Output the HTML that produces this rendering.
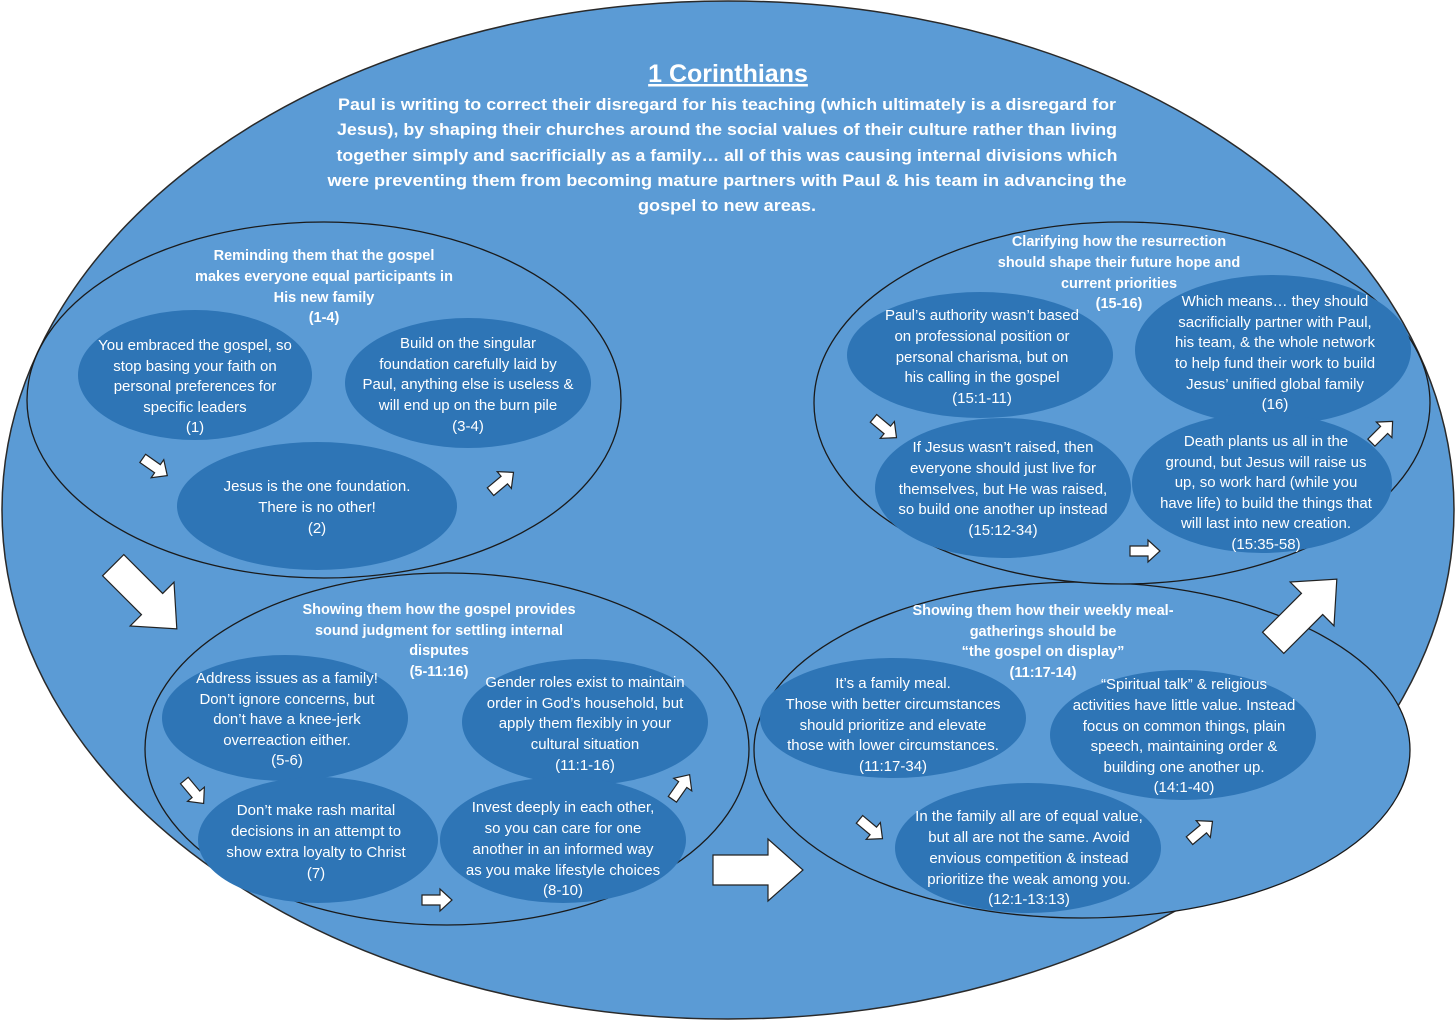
<!DOCTYPE html>
<html><head><meta charset="utf-8"><style>
html,body{margin:0;padding:0;background:#fff;}
svg{display:block;}
text{font-family:"Liberation Sans",sans-serif;fill:#fff;text-anchor:middle;}
.h{font-weight:bold;font-size:14.5px;}
.s{font-size:15px;}
.arr{fill:#fff;stroke:#222;stroke-width:1.2;}
</style></head><body>
<svg width="1456" height="1021" viewBox="0 0 1456 1021" xmlns="http://www.w3.org/2000/svg">
<defs>
<path id="sa" d="M-15,-5 L3,-5 L3,-11 L15,0 L3,11 L3,5 L-15,5 Z"/>
<path id="ba" d="M-45,-15 L10,-15 L10,-31 L45,0 L10,31 L10,15 L-45,15 Z"/>
</defs>
<ellipse cx="728" cy="510" rx="726" ry="509" fill="#5b9bd5" stroke="#2a2a2a" stroke-width="1.5"/>
<text x="728" y="82" style="font-weight:bold;font-size:25px;text-decoration:underline">1 Corinthians</text>
<g style="font-weight:bold;font-size:17px">
<text x="727" y="110" textLength="778" lengthAdjust="spacingAndGlyphs">Paul is writing to correct their disregard for his teaching (which ultimately is a disregard for</text>
<text x="727" y="135" textLength="780" lengthAdjust="spacingAndGlyphs">Jesus), by shaping their churches around the social values of their culture rather than living</text>
<text x="727" y="161" textLength="781" lengthAdjust="spacingAndGlyphs">together simply and sacrificially as a family… all of this was causing internal divisions which</text>
<text x="727" y="186" textLength="799" lengthAdjust="spacingAndGlyphs">were preventing them from becoming mature partners with Paul &amp; his team in advancing the</text>
<text x="727" y="211" textLength="178" lengthAdjust="spacingAndGlyphs">gospel to new areas.</text>
</g>

<!-- Group 1 -->
<ellipse cx="324" cy="400" rx="297" ry="178" fill="#5b9bd5" stroke="#1a1a1a" stroke-width="1.3"/>
<text class="h" x="324" y="260">Reminding them that the gospel</text>
<text class="h" x="324" y="281">makes everyone equal participants in</text>
<text class="h" x="324" y="302">His new family</text>
<text class="h" x="324" y="322">(1-4)</text>
<ellipse cx="195" cy="375" rx="117" ry="65" fill="#2e75b6"/>
<text class="s" x="195" y="350">You embraced the gospel, so</text>
<text class="s" x="195" y="371">stop basing your faith on</text>
<text class="s" x="195" y="391">personal preferences for</text>
<text class="s" x="195" y="412">specific leaders</text>
<text class="s" x="195" y="432">(1)</text>
<ellipse cx="468" cy="383" rx="123" ry="65" fill="#2e75b6"/>
<text class="s" x="468" y="348">Build on the singular</text>
<text class="s" x="468" y="369">foundation carefully laid by</text>
<text class="s" x="468" y="389">Paul, anything else is useless &amp;</text>
<text class="s" x="468" y="410">will end up on the burn pile</text>
<text class="s" x="468" y="431">(3-4)</text>
<ellipse cx="317" cy="506" rx="140" ry="64" fill="#2e75b6"/>
<text class="s" x="317" y="491">Jesus is the one foundation.</text>
<text class="s" x="317" y="512">There is no other!</text>
<text class="s" x="317" y="533">(2)</text>
<use href="#sa" class="arr" transform="translate(155,467) rotate(35)"/>
<use href="#sa" class="arr" transform="translate(502,482) rotate(-40)"/>
<use href="#ba" class="arr" transform="translate(145,597) rotate(45)"/>

<!-- Group 2 -->
<ellipse cx="447" cy="749" rx="302" ry="176" fill="#5b9bd5" stroke="#1a1a1a" stroke-width="1.3"/>
<text class="h" x="439" y="614">Showing them how the gospel provides</text>
<text class="h" x="439" y="635">sound judgment for settling internal</text>
<text class="h" x="439" y="655">disputes</text>
<text class="h" x="439" y="676">(5-11:16)</text>
<ellipse cx="285" cy="718" rx="123" ry="63" fill="#2e75b6"/>
<text class="s" x="287" y="683">Address issues as a family!</text>
<text class="s" x="287" y="704">Don’t ignore concerns, but</text>
<text class="s" x="287" y="724">don’t have a knee-jerk</text>
<text class="s" x="287" y="745">overreaction either.</text>
<text class="s" x="287" y="765">(5-6)</text>
<ellipse cx="585" cy="722" rx="123" ry="63" fill="#2e75b6"/>
<text class="s" x="585" y="687">Gender roles exist to maintain</text>
<text class="s" x="585" y="708">order in God’s household, but</text>
<text class="s" x="585" y="728">apply them flexibly in your</text>
<text class="s" x="585" y="749">cultural situation</text>
<text class="s" x="585" y="770">(11:1-16)</text>
<ellipse cx="318" cy="840" rx="120" ry="63" fill="#2e75b6"/>
<text class="s" x="316" y="815">Don’t make rash marital</text>
<text class="s" x="316" y="836">decisions in an attempt to</text>
<text class="s" x="316" y="857">show extra loyalty to Christ</text>
<text class="s" x="316" y="878">(7)</text>
<ellipse cx="563" cy="840" rx="123" ry="63" fill="#2e75b6"/>
<text class="s" x="563" y="812">Invest deeply in each other,</text>
<text class="s" x="563" y="833">so you can care for one</text>
<text class="s" x="563" y="854">another in an informed way</text>
<text class="s" x="563" y="875">as you make lifestyle choices</text>
<text class="s" x="563" y="895">(8-10)</text>
<use href="#sa" class="arr" transform="translate(194,792) rotate(50)"/>
<use href="#sa" class="arr" transform="translate(437,900)"/>
<use href="#sa" class="arr" transform="translate(681,787) rotate(-55)"/>
<use href="#ba" class="arr" transform="translate(758,870)"/>

<!-- Group 3 -->
<ellipse cx="1082" cy="750" rx="328" ry="168" fill="#5b9bd5" stroke="#1a1a1a" stroke-width="1.3"/>
<text class="h" x="1043" y="615">Showing them how their weekly meal-</text>
<text class="h" x="1043" y="636">gatherings should be</text>
<text class="h" x="1043" y="656">“the gospel on display”</text>
<text class="h" x="1043" y="677">(11:17-14)</text>
<ellipse cx="893" cy="718" rx="133" ry="60" fill="#2e75b6"/>
<text class="s" x="893" y="688">It’s a family meal.</text>
<text class="s" x="893" y="709">Those with better circumstances</text>
<text class="s" x="893" y="730">should prioritize and elevate</text>
<text class="s" x="893" y="750">those with lower circumstances.</text>
<text class="s" x="893" y="771">(11:17-34)</text>
<ellipse cx="1183" cy="735" rx="133" ry="65" fill="#2e75b6"/>
<text class="s" x="1184" y="689">“Spiritual talk” &amp; religious</text>
<text class="s" x="1184" y="710">activities have little value. Instead</text>
<text class="s" x="1184" y="731">focus on common things, plain</text>
<text class="s" x="1184" y="751">speech, maintaining order &amp;</text>
<text class="s" x="1184" y="772">building one another up.</text>
<text class="s" x="1184" y="792">(14:1-40)</text>
<ellipse cx="1028" cy="848" rx="133" ry="65" fill="#2e75b6"/>
<text class="s" x="1029" y="821">In the family all are of equal value,</text>
<text class="s" x="1029" y="842">but all are not the same. Avoid</text>
<text class="s" x="1029" y="863">envious competition &amp; instead</text>
<text class="s" x="1029" y="884">prioritize the weak among you.</text>
<text class="s" x="1029" y="904">(12:1-13:13)</text>
<use href="#sa" class="arr" transform="translate(871,829) rotate(40)"/>
<use href="#sa" class="arr" transform="translate(1201,831) rotate(-40)"/>
<use href="#ba" class="arr" transform="translate(1305,611) rotate(-45)"/>

<!-- Group 4 -->
<ellipse cx="1122" cy="403" rx="308" ry="181" fill="#5b9bd5" stroke="#1a1a1a" stroke-width="1.3"/>
<text class="h" x="1119" y="246">Clarifying how the resurrection</text>
<text class="h" x="1119" y="267">should shape their future hope and</text>
<text class="h" x="1119" y="288">current priorities</text>
<text class="h" x="1119" y="308">(15-16)</text>
<ellipse cx="980" cy="355" rx="133" ry="63" fill="#2e75b6"/>
<text class="s" x="982" y="320">Paul’s authority wasn’t based</text>
<text class="s" x="982" y="341">on professional position or</text>
<text class="s" x="982" y="362">personal charisma, but on</text>
<text class="s" x="982" y="382">his calling in the gospel</text>
<text class="s" x="982" y="403">(15:1-11)</text>
<ellipse cx="1273" cy="350" rx="138" ry="75" fill="#2e75b6"/>
<text class="s" x="1275" y="306">Which means… they should</text>
<text class="s" x="1275" y="327">sacrificially partner with Paul,</text>
<text class="s" x="1275" y="347">his team, &amp; the whole network</text>
<text class="s" x="1275" y="368">to help fund their work to build</text>
<text class="s" x="1275" y="389">Jesus’ unified global family</text>
<text class="s" x="1275" y="409">(16)</text>
<ellipse cx="1003" cy="488" rx="128" ry="70" fill="#2e75b6"/>
<text class="s" x="1003" y="452">If Jesus wasn’t raised, then</text>
<text class="s" x="1003" y="473">everyone should just live for</text>
<text class="s" x="1003" y="494">themselves, but He was raised,</text>
<text class="s" x="1003" y="514">so build one another up instead</text>
<text class="s" x="1003" y="535">(15:12-34)</text>
<ellipse cx="1262" cy="483" rx="130" ry="70" fill="#2e75b6"/>
<text class="s" x="1266" y="446">Death plants us all in the</text>
<text class="s" x="1266" y="467">ground, but Jesus will raise us</text>
<text class="s" x="1266" y="487">up, so work hard (while you</text>
<text class="s" x="1266" y="508">have life) to build the things that</text>
<text class="s" x="1266" y="528">will last into new creation.</text>
<text class="s" x="1266" y="549">(15:35-58)</text>
<use href="#sa" class="arr" transform="translate(885,428) rotate(40)"/>
<use href="#sa" class="arr" transform="translate(1145,551)"/>
<use href="#sa" class="arr" transform="translate(1382,432) rotate(-45)"/>
</svg>
</body></html>
